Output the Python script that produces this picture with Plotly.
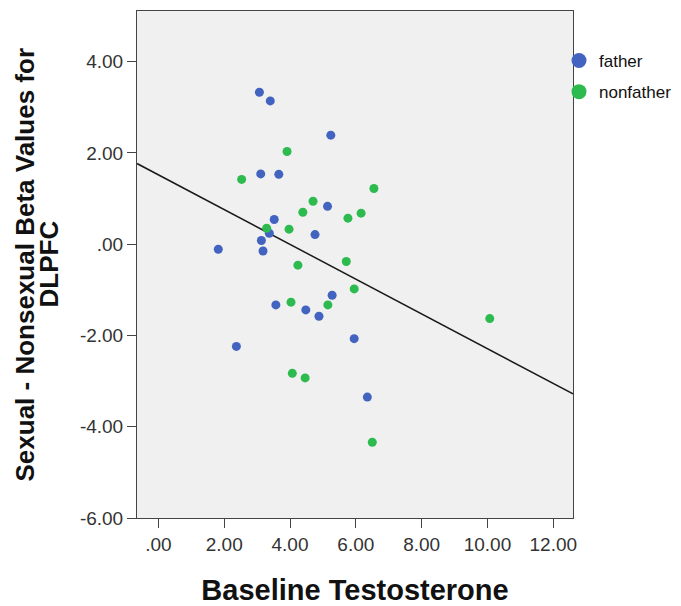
import plotly.graph_objects as go

# ---- data ----
father_x = [3.07, 3.40, 5.24, 3.11, 3.66, 5.14, 3.52, 3.37, 4.76, 3.13, 1.82, 3.18,
            3.57, 4.48, 4.88, 5.28, 2.37, 5.95, 6.35]
father_y = [3.33, 3.14, 2.39, 1.54, 1.53, 0.83, 0.54, 0.24, 0.21, 0.08, -0.11, -0.15,
            -1.33, -1.44, -1.58, -1.12, -2.24, -2.07, -3.35]

nonfather_x = [3.91, 2.53, 4.70, 4.39, 3.29, 3.97, 4.24, 6.55, 6.16, 5.76, 5.71,
               4.03, 5.15, 4.07, 4.46, 5.95, 10.07, 6.50]
nonfather_y = [2.03, 1.42, 0.94, 0.70, 0.35, 0.33, -0.46, 1.22, 0.68, 0.57, -0.38,
               -1.27, -1.33, -2.83, -2.93, -0.98, -1.63, -4.34]

fit_intercept = 1.52
fit_slope = -0.381

x_range = [-0.65, 12.6]
y_range = [-6.0, 5.11]
x_ticks = [0, 2, 4, 6, 8, 10, 12]
x_ticklabels = [".00", "2.00", "4.00", "6.00", "8.00", "10.00", "12.00"]
y_ticks = [-6, -4, -2, 0, 2, 4]
y_ticklabels = ["-6.00", "-4.00", "-2.00", ".00", "2.00", "4.00"]

BLUE = "#4264C0"
GREEN = "#2DBB4F"
FONT = "Liberation Sans, Arial, sans-serif"

fig = go.Figure()

# regression line across the full x range
fig.add_trace(go.Scatter(
    x=x_range, y=[fit_intercept + fit_slope * v for v in x_range],
    mode="lines", line=dict(color="#1a1a1a", width=1.5),
    showlegend=False, hoverinfo="skip"))

fig.add_trace(go.Scatter(
    x=father_x, y=father_y, mode="markers", name="father",
    marker=dict(color=BLUE, size=9), showlegend=False))
fig.add_trace(go.Scatter(
    x=nonfather_x, y=nonfather_y, mode="markers", name="nonfather",
    marker=dict(color=GREEN, size=9), showlegend=False))

# legend entries with larger symbols
fig.add_trace(go.Scatter(
    x=[None], y=[None], mode="markers", name="father", legendgroup="a",
    marker=dict(color=BLUE, size=15)))
fig.add_trace(go.Scatter(
    x=[None], y=[None], mode="markers", name="nonfather", legendgroup="b",
    marker=dict(color=GREEN, size=15)))

W, H = 681, 606
L, T = 129, 3
R = W - 565
B = H - 510
pw = W - L - R
ph = H - T - B

fig.update_layout(
    width=W, height=H,
    margin=dict(l=L, r=R, t=T, b=B, pad=0, autoexpand=False),
    paper_bgcolor="white",
    plot_bgcolor="#F0F0F0",
    font=dict(family=FONT, color="#222"),
    legend=dict(
        x=(551 - L) / pw, y=1 - (35 - T) / ph, xanchor="left", yanchor="top",
        bgcolor="rgba(0,0,0,0)", font=dict(size=17, color="#111"),
        traceorder="grouped", tracegroupgap=6, itemwidth=30),
    xaxis=dict(
        range=x_range, tickvals=x_ticks, ticktext=x_ticklabels,
        showgrid=False, zeroline=False, automargin=False,
        showline=True, linecolor="#444", linewidth=1, mirror=True,
        ticks="outside", ticklen=9, tickcolor="#444",
        tickfont=dict(size=19, color="#333"),
        title=dict(text="<b>Baseline Testosterone</b>", font=dict(size=29, color="#111"),
                   standoff=25)),
    yaxis=dict(
        range=y_range, tickvals=y_ticks, ticktext=y_ticklabels,
        showgrid=False, zeroline=False, automargin=False,
        showline=True, linecolor="#444", linewidth=1, mirror=True,
        ticks="outside", ticklen=9, tickcolor="#444",
        tickfont=dict(size=19, color="#333")),
    annotations=[
        dict(text="<b>Sexual - Nonsexual Beta Values for</b>", textangle=-90,
             xref="paper", yref="paper", x=(16 - L) / pw, y=0.5,
             xanchor="center", yanchor="middle", showarrow=False,
             font=dict(size=26, color="#111")),
        dict(text="<b>DLPFC</b>", textangle=-90,
             xref="paper", yref="paper", x=(40 - L) / pw, y=0.5,
             xanchor="center", yanchor="middle", showarrow=False,
             font=dict(size=26, color="#111")),
    ],
)

fig.write_html("out.html")
